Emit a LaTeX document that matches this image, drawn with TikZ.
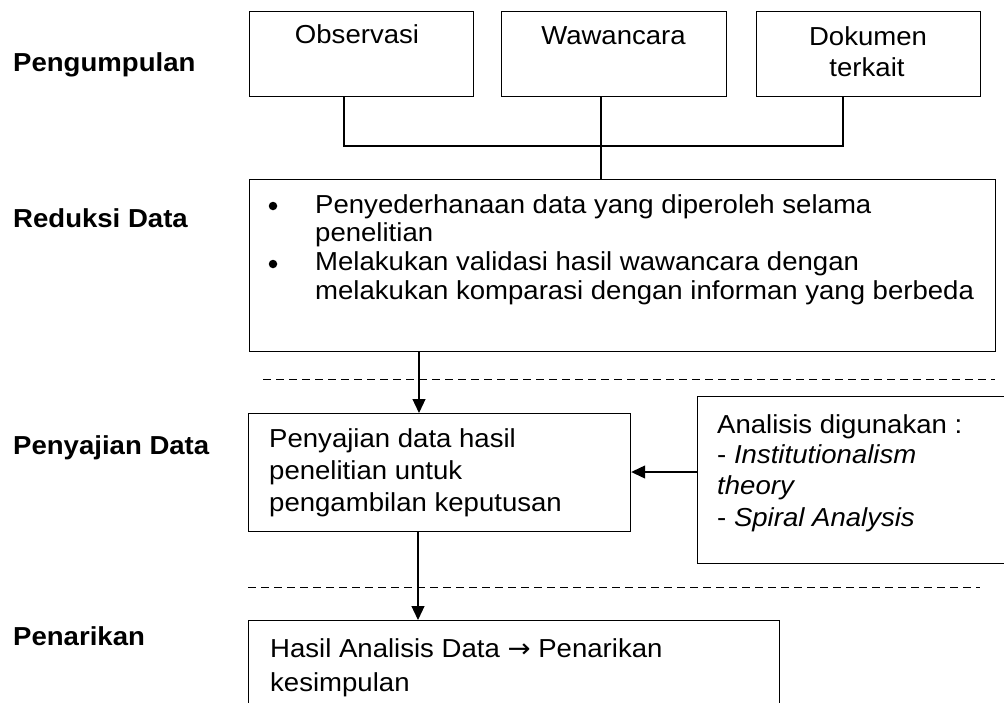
\documentclass[tikz,border=0pt]{standalone}
\usepackage{fontspec}
\setmainfont{Liberation Sans}[FakeStretch=1.06]
\newfontfamily\arrowfont{DejaVu Sans}[FakeStretch=1.06]
\usetikzlibrary{arrows.meta}
\begin{document}
\begin{tikzpicture}[x=1pt,y=-1pt,
  box/.style={draw, line width=1.2pt, inner sep=0pt, anchor=north west},
  txt/.style={anchor=base west, inner sep=0pt, font=\fontsize{26}{30}\selectfont},
  ctxt/.style={anchor=base, inner sep=0pt, font=\fontsize{26}{30}\selectfont},
  lbl/.style={anchor=base west, inner sep=0pt, font=\fontsize{26}{30}\selectfont\bfseries},
  bul/.style={circle, fill, inner sep=0pt, minimum size=8.5pt},
  conn/.style={line width=1.2pt},
  arr/.style={line width=1.2pt, -{Triangle[length=14pt,width=13pt]}},
  sep/.style={line width=1pt, dash pattern=on 8pt off 5pt}]
\useasboundingbox (0,0) rectangle (1004,702);

% left stage labels
\node[lbl] (l1) at (13,71) {Pengumpulan};
\node[lbl] (l2) at (13,227) {Reduksi Data};
\node[lbl] (l3) at (13,454) {Penyajian Data};
\node[lbl] (l4) at (13,645) {Penarikan};

% boxes
\node[box, minimum width=224pt, minimum height=85pt] (obs) at (249,10.5) {};
\node[box, minimum width=225pt, minimum height=85pt] (waw) at (501,10.5) {};
\node[box, minimum width=224pt, minimum height=85pt] (dok) at (756,10.5) {};
\node[box, minimum width=746pt, minimum height=172pt] (red) at (249,179) {};
\node[box, minimum width=382pt, minimum height=118pt] (pen) at (248,413) {};
\node[box, minimum width=315pt, minimum height=167pt] (ana) at (697,396) {};
\node[box, minimum width=531pt, minimum height=110pt] (tar) at (248,620) {};

% box texts
\node[ctxt] (tobs) at (357,43.5) {Observasi};
\node[ctxt] (twaw) at (613.5,44.5) {Wawancara};
\node[ctxt] (tdok1) at (868,45.5) {Dokumen};
\node[ctxt] (tdok2) at (867,76.5) {terkait};

\node[bul] (b1) at (273,206) {};
\node[bul] (b2) at (273,264) {};
\node[txt] (r1) at (315,213) {Penyederhanaan data yang diperoleh selama};
\node[txt] (r2) at (315,241.5) {penelitian};
\node[txt] (r3) at (315,270.5) {Melakukan validasi hasil wawancara dengan};
\node[txt] (r4) at (315,299) {melakukan komparasi dengan informan yang berbeda};

\node[txt] (p1) at (269,447.5) {Penyajian data hasil};
\node[txt] (p2) at (269,479) {penelitian untuk};
\node[txt] (p3) at (269,511) {pengambilan keputusan};

\node[txt] (a1) at (717,433) {Analisis digunakan :};
\node[txt] (a2) at (717,463) {- \textit{Institutionalism}};
\node[txt] (a3) at (717,494.5) {\textit{theory}};
\node[txt] (a4) at (717,526) {- \textit{Spiral Analysis}};

\node[txt] (t1) at (270,657) {Hasil Analisis Data {\arrowfont →} Penarikan};
\node[txt] (t2) at (270,691.5) {kesimpulan};

% connectors
\coordinate (j1) at (344,146);
\coordinate (j2) at (843,146);
\coordinate (wx) at (601,0);
\coordinate (ax1) at (419,0);
\coordinate (ax2) at (418,0);
\coordinate (ay) at (0,472);
\draw[conn] (obs.south -| j1) -- (j1) -- (j2) -- (dok.south -| j2);
\draw[conn] (waw.south -| wx) -- (red.north -| wx);
\draw[arr] (red.south -| ax1) -- (pen.north -| ax1);
\draw[arr] (ana.west |- ay) -- (pen.east |- ay);
\draw[arr] (pen.south -| ax2) -- (tar.north -| ax2);

% stage separators
\draw[sep] (263,379) -- (995,379);
\draw[sep] (248,587) -- (980,587);
\end{tikzpicture}
\end{document}
